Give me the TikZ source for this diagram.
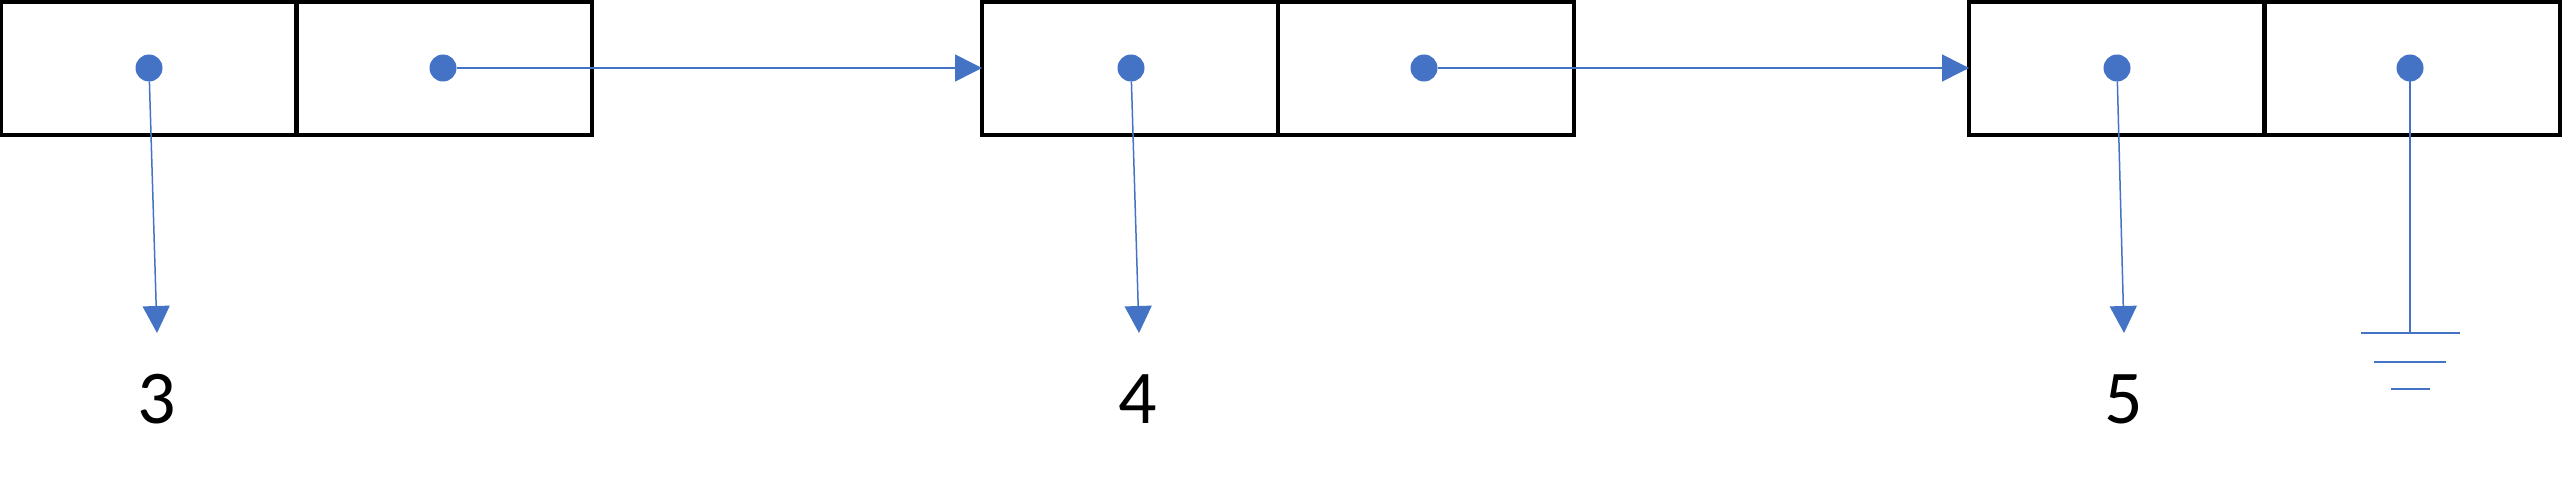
\documentclass[tikz,border=0pt]{standalone}
\usepackage{fontspec}
\setmainfont{Carlito}
\usetikzlibrary{arrows.meta}
\definecolor{ptr}{HTML}{4472C4}
\begin{document}
\begin{tikzpicture}[x=1pt,y=-1pt,
  cell/.style={draw=black,line width=3.5pt,minimum width=296pt,minimum height=133pt,inner sep=0pt,outer sep=0pt},
  dot/.style={circle,fill=ptr,minimum size=27pt,inner sep=0pt,outer sep=0pt},
  link/.style={draw=ptr,line width=1.5pt,-{Triangle[length=27pt,width=27pt]}},
  val/.style={font=\fontsize{76}{80}\selectfont,anchor=base,inner sep=0pt},
  gnd/.style={draw=ptr,line width=2pt}]
\useasboundingbox (0,0) rectangle (2562,500);
% cells
\node[cell] (b1) at (149,68.5) {};
\node[cell] (b2) at (444,68.5) {};
\node[cell] (b3) at (1130,68.5) {};
\node[cell] (b4) at (1426,68.5) {};
\node[cell] (b5) at (2117,68.5) {};
\node[cell] (b6) at (2412,68.5) {};
% dots
\node[dot] (d1) at (149,68) {};
\node[dot] (d2) at (443,68) {};
\node[dot] (d3) at (1131,68) {};
\node[dot] (d4) at (1424,68) {};
\node[dot] (d5) at (2117,68) {};
\node[dot] (d6) at (2410,68) {};
% targets
\coordinate (t1) at (157,333);
\coordinate (t3) at (1139,333);
\coordinate (t5) at (2124,333);
\coordinate (g) at (2410,333);
% values
\node[val] (v1) at (157,423) {3};
\node[val] (v3) at (1138,423) {4};
\node[val] (v5) at (2124,423) {5};
% links
\draw[link] (d2) -- (b3.west |- d2);
\draw[link] (d4) -- (b5.west |- d4);
\draw[link] (d1) -- (t1);
\draw[link] (d3) -- (t3);
\draw[link] (d5) -- (t5);
% ground
\draw[gnd] (d6) -- (g);
\draw[gnd] (2361,333) -- (2460,333);
\draw[gnd] (2374,362) -- (2446,362);
\draw[gnd] (2391,389) -- (2430,389);
\end{tikzpicture}
\end{document}
